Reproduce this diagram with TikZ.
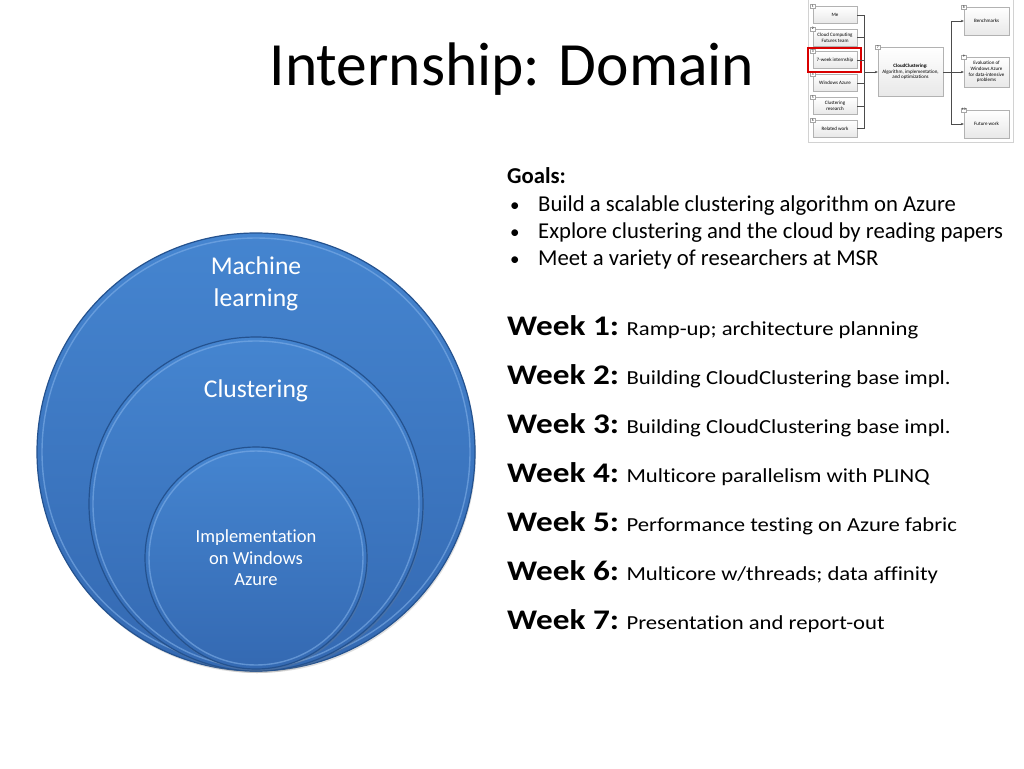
\documentclass[tikz,border=0pt]{standalone}
\usepackage{fontspec}
\setmainfont{Carlito}[Ligatures=NoCommon]
\newfontfamily\wkreg{Carlito}[Ligatures=NoCommon, FakeStretch=1.14]
\newfontfamily\wkbold{Carlito}[Ligatures=NoCommon, FakeStretch=1.17]
\usetikzlibrary{arrows.meta,shadows}
\definecolor{ringedge}{HTML}{24528F}
\definecolor{ringtop}{HTML}{4585D0}
\definecolor{ringbot}{HTML}{3469B2}
\definecolor{ringrim}{HTML}{7FAFE8}
\newcommand{\wk}[1]{{\wkbold\bfseries\fontsize{28.4}{32}\selectfont Week #1:\ }}
\newcommand{\bul}{\makebox[31pt][l]{\hspace{3pt}\fontsize{19}{20}\selectfont •}}
\begin{document}
\begin{tikzpicture}[x=1pt,y=-1pt]
  \tikzstyle{ring}=[circle, draw=ringedge, line width=1.2pt, top color=ringtop, bottom color=ringbot, inner sep=0pt, drop shadow={opacity=0.25, shadow xshift=1pt, shadow yshift=-2pt}]
  \tikzstyle{rim}=[ringrim, line width=1.4pt, opacity=0.6]
  \tikzstyle{ctext}=[white, align=center, inner sep=0pt]
  \tikzstyle{goal}=[anchor=base west, inner sep=0pt, font=\fontsize{22.7}{27}\selectfont]
  \tikzstyle{week}=[anchor=base west, inner sep=0pt, font=\wkreg\fontsize{19.9}{24}\selectfont]
  \tikzstyle{tbox}=[draw=gray!60, top color=white, bottom color=gray!18, minimum width=44pt, minimum height=17pt, inner sep=0.5pt, align=center, font=\fontsize{5}{5.6}\selectfont]
  \tikzstyle{tag}=[draw=gray!70, fill=white, minimum width=5pt, minimum height=4pt, inner sep=0.4pt, font=\fontsize{3.6}{4}\selectfont]
  \tikzstyle{link}=[gray!60!black, line width=0.5pt]
  \useasboundingbox (0,0) rectangle (1024,768);
  \fill[white] (0,0) rectangle (1024,768);

  \node[anchor=base, inner sep=0pt, font=\fontsize{61.5}{70}\selectfont] (title) at (512,85) {Internship: Domain};

  \node[ring, minimum size=438pt] (ml) at (256,452) {};
  \draw[rim] (ml.center) circle[radius=214pt];
  \node[ring, minimum size=334pt] (cl) at (256,504) {};
  \draw[rim] (cl.center) circle[radius=163pt];
  \node[ring, minimum size=222pt] (az) at (256,558) {};
  \draw[rim] (az.center) circle[radius=107pt];
  \node[ctext, font=\fontsize{25.6}{32}\selectfont] (mlt) at (256,284) {Machine\\learning};
  \node[ctext, anchor=base, font=\fontsize{25.6}{32}\selectfont] (clt) at (256,397) {Clustering};
  \node[ctext, font=\fontsize{18.5}{21.5}\selectfont] (azt) at (256,558) {Implementation\\on Windows\\Azure};

  \node[goal] (g0) at (507,183) {\textbf{Goals:}};
  \node[goal] (g1) at (507,211) {\bul Build a scalable clustering algorithm on Azure};
  \node[goal] (g2) at (507,238) {\bul Explore clustering and the cloud by reading papers};
  \node[goal] (g3) at (507,265) {\bul Meet a variety of researchers at MSR};

  \node[week] (w1) at (507,335) {\wk{1}Ramp-up; architecture planning};
  \node[week] (w2) at (507,384) {\wk{2}Building CloudClustering base impl.};
  \node[week] (w3) at (507,433) {\wk{3}Building CloudClustering base impl.};
  \node[week] (w4) at (507,482) {\wk{4}Multicore parallelism with PLINQ};
  \node[week] (w5) at (507,531) {\wk{5}Performance testing on Azure fabric};
  \node[week] (w6) at (507,580) {\wk{6}Multicore w/threads; data affinity};
  \node[week] (w7) at (507,629) {\wk{7}Presentation and report-out};

  \draw[gray!35] (808,-1) rectangle (1013,142);
  \node[tbox] (p1) at (835,15) {Me};
  \node[tbox] (p2) at (835,37.5) {Cloud Computing\\Futures team};
  \node[tbox] (p3) at (835,60) {7-week internship};
  \node[tbox] (p4) at (835,83) {Windows Azure};
  \node[tbox] (p5) at (835,106) {Clustering\\research};
  \node[tbox] (p6) at (835,128.5) {Related work};
  \node[tbox, minimum width=65pt, minimum height=49pt] (p7) at (910.5,72) {\textbf{CloudClustering:}\\Algorithm, implementation,\\and optimizations};
  \node[tbox, minimum width=45pt, minimum height=28pt] (p8) at (986.5,21) {Benchmarks};
  \node[tbox, minimum width=45pt, minimum height=30pt] (p9) at (986.5,72) {Evaluation of\\Windows Azure\\for data-intensive\\problems};
  \node[tbox, minimum width=45pt, minimum height=28pt] (p10) at (986.5,124) {Future work};
  \node[tag] (q1) at (p1.north west) {1};
  \node[tag] (q2) at (p2.north west) {2};
  \node[tag] (q3) at (p3.north west) {3};
  \node[tag] (q4) at (p4.north west) {4};
  \node[tag] (q5) at (p5.north west) {5};
  \node[tag] (q6) at (p6.north west) {6};
  \node[tag] (q7) at (p7.north west) {7};
  \node[tag] (q8) at (p8.north west) {8};
  \node[tag] (q9) at (p9.north west) {9};
  \node[tag] (q10) at (p10.north west) {10};
  \draw[red!85!black, line width=1.5pt] (808,48) rectangle (861,72);

  \coordinate (jl) at (864,72);
  \coordinate (jr) at (951,72);
  \draw[link] (p1.east) -| (jl);
  \draw[link] (p2.east) -| (jl);
  \draw[link] (p3.east) -| (jl);
  \draw[link] (p4.east) -| (jl);
  \draw[link] (p5.east) -| (jl);
  \draw[link] (p6.east) -| (jl);
  \draw[link, -{Stealth[length=3pt,width=2.5pt]}] (jl) -- (p7.west);
  \draw[link] (p7.east) -- (jr);
  \draw[link, -{Stealth[length=3pt,width=2.5pt]}] (jr) |- (p8.west);
  \draw[link, -{Stealth[length=3pt,width=2.5pt]}] (jr) -- (p9.west);
  \draw[link, -{Stealth[length=3pt,width=2.5pt]}] (jr) |- (p10.west);
\end{tikzpicture}
\end{document}
